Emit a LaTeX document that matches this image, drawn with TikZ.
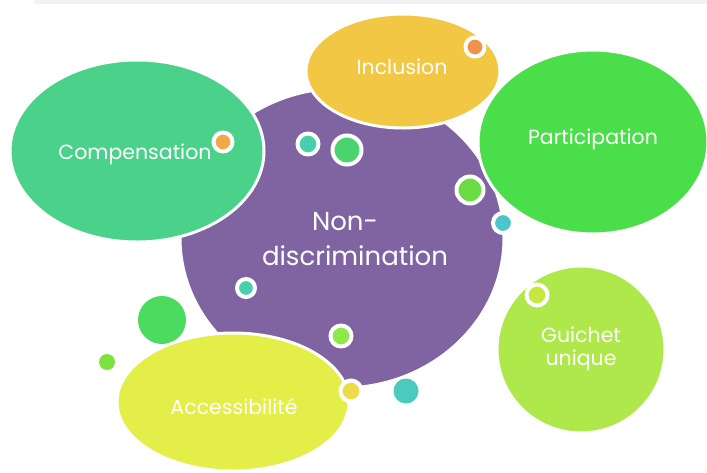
\documentclass[tikz,border=0pt]{standalone}
\usepackage{fontspec}
\setmainfont{Poppins}
\definecolor{cpurple}{HTML}{8064A2}
\definecolor{cincl}{HTML}{F2C744}
\definecolor{ccomp}{HTML}{4AD28A}
\definecolor{cpart}{HTML}{4BDE4B}
\definecolor{cguich}{HTML}{AEE84A}
\definecolor{cacc}{HTML}{E3EE48}
\definecolor{cbar}{HTML}{F2F2F2}
\definecolor{corange}{HTML}{F0A848}
\definecolor{corange2}{HTML}{F0924A}
\definecolor{cteal}{HTML}{48CFAE}
\definecolor{cgreen}{HTML}{4AD46E}
\definecolor{cgreen2}{HTML}{69DC44}
\definecolor{cteal2}{HTML}{4BC6CC}
\definecolor{cbiggreen}{HTML}{4ADB5F}
\definecolor{csmallgreen}{HTML}{7EE23E}
\definecolor{clime}{HTML}{8EE84A}
\definecolor{cyellow}{HTML}{EEDB48}
\definecolor{cteal3}{HTML}{4BCBC0}
\definecolor{cguichdot}{HTML}{C5E840}
\tikzset{
  blob/.style={draw=white, line width=3pt},
  lbl/.style={text=white, align=center, inner sep=0pt, font=\fontsize{20.5}{23}\selectfont},
  ringdot/.style={draw=white, line width=4pt}
}
\begin{document}
\begin{tikzpicture}[x=1pt,y=-1pt]
\useasboundingbox (0,0) rectangle (707,472);
\clip (0,0) rectangle (707,472);
\fill[cbar] (34,0) rectangle (707,4);
% big plain dots
\fill[cbiggreen] (162,320) circle (24);
\fill[csmallgreen] (107,362) circle (8);
% main blobs
\path[fill=cpurple, blob] (342,238) ellipse [x radius=162, y radius=150];
\path[fill=ccomp, blob] (137,151) ellipse [x radius=127, y radius=91];
\path[fill=cincl, blob] (403,71) ellipse [x radius=97, y radius=57];
\path[fill=cpart, blob] (593,142) ellipse [x radius=115, y radius=92];
\path[fill=cguich, blob] (581,349.5) ellipse [x radius=84, y radius=83.5];
\path[fill=cacc, blob] (233,402) ellipse [x radius=116, y radius=69];
% ringed dots
\path[fill=corange, ringdot] (223,142) circle (9.5);
\path[fill=corange2, ringdot] (475,47) circle (9.5);
\path[fill=cteal, ringdot] (308,144) circle (10.5);
\path[fill=cgreen, ringdot] (347,150) circle (14.5);
\path[fill=cgreen2, ringdot] (470,190) circle (13.5);
\path[fill=cteal2, ringdot] (503,223) circle (10);
\path[fill=cteal, ringdot] (246,288) circle (9);
\path[fill=clime, ringdot] (341,336) circle (10.5);
\path[fill=cyellow, ringdot] (351,391) circle (10.5);
\path[fill=cguichdot, ringdot] (537,295) circle (10.5);
\fill[cteal3] (406,391) circle (12.5);
% labels
\node[lbl, font=\fontsize{26}{35}\selectfont] (nd) at (355,239) {Non-\hspace*{20pt}\\discrimination};
\node[lbl] (inc) at (402,67) {Inclusion};
\node[lbl] (comp) at (135,154) {Compensation};
\node[lbl] (part) at (593,139) {Participation};
\node[lbl] (gu) at (581,349) {Guichet\\unique};
\node[lbl] (acc) at (234,407) {Accessibilité};
\end{tikzpicture}
\end{document}
